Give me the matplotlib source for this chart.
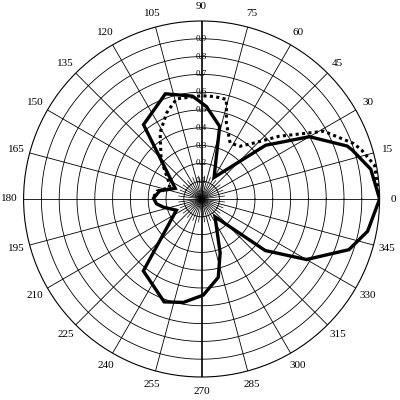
import numpy as np
import matplotlib
matplotlib.use("Agg")
import matplotlib.pyplot as plt

# ---- data (angle in degrees, radius) ----
solid_deg = [0, 10, 18, 20, 30, 40, 60, 76, 87, 95, 109, 128, 158, 169, 179, 186,
             192, 204, 231, 250, 260, 271, 282, 289, 307, 321, 330, 341, 349, 360]
solid_r = [1.00, 0.965, 0.89, 0.87, 0.70, 0.47, 0.14, 0.42, 0.52, 0.58, 0.625, 0.53,
           0.16, 0.24, 0.27, 0.255, 0.22, 0.155, 0.52, 0.615, 0.59, 0.54, 0.45, 0.32,
           0.125, 0.46, 0.68, 0.875, 0.95, 1.00]

dotted_deg = [0, 6, 11, 17, 20, 29, 39, 47, 54, 63, 72, 76, 83, 90, 104, 112, 122,
              136, 152, 160, 170, 178]
dotted_r = [1.00, 0.99, 0.99, 0.94, 0.91, 0.785, 0.56, 0.43, 0.366, 0.353, 0.45, 0.577,
            0.58, 0.58, 0.58, 0.523, 0.44, 0.316, 0.21, 0.19, 0.255, 0.27]

angle_ticks = list(range(0, 360, 15))
angle_labels = [str(a) for a in angle_ticks]
radial_ticks = [0.1, 0.2, 0.3, 0.4, 0.5, 0.6, 0.7, 0.8, 0.9]
radial_labels = ["0.1", "0.2", "0.3", "0.4", "0.5", "0.6", "0.7", "0.8", "0.9"]

fig = plt.figure(figsize=(4, 4), dpi=100)
ax = fig.add_axes([0.059, 0.0575, 0.89, 0.89], projection="polar")
ax.set_ylim(0, 1.0)
ax.set_xticks([])
ax.set_yticks([])
ax.grid(False)
ax.spines["polar"].set_linewidth(0.8)
ax.spines["polar"].set_color("black")

tt = np.linspace(0, 2 * np.pi, 361)
for rr in radial_ticks:
    ax.plot(tt, np.full_like(tt, rr), color="black", lw=0.6, zorder=1)

for a in angle_ticks:
    th = np.deg2rad(a)
    lw = 1.2 if a in (90, 270) else 0.6
    ax.plot([th, th], [0, 1.0], color="black", lw=lw, zorder=1)

for k in range(24):
    th = np.deg2rad(7.5 + 15 * k)
    ax.plot([th, th], [0, 0.13], color="black", lw=0.5, zorder=1)

for a, lab in zip(angle_ticks, angle_labels):
    ax.text(np.deg2rad(a), 1.08, lab, ha="center", va="center",
            fontsize=8, family="Liberation Serif", clip_on=False)

for rr, lab in zip(radial_ticks, radial_labels):
    ax.text(np.pi / 2, rr, lab, ha="center", va="center", fontsize=6.5,
            family="Liberation Serif", zorder=2)

ax.plot(np.deg2rad(dotted_deg), dotted_r, color="black", lw=2.2,
        linestyle=(0, (1, 1.1)), zorder=3)
ax.plot(np.deg2rad(solid_deg), solid_r, color="black", lw=2.4,
        solid_joinstyle="miter", zorder=4)

fig.savefig("out.png", dpi=100)
